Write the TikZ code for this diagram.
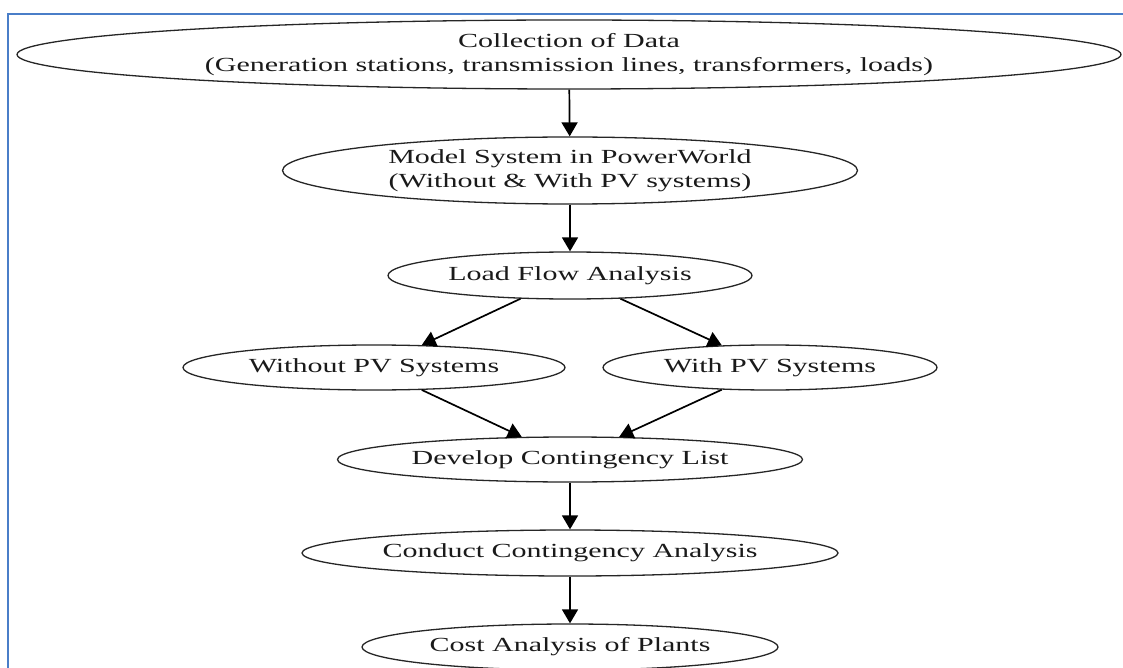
\documentclass[tikz,border=0pt]{standalone}
\usepackage{fontspec}
\setmainfont{Liberation Serif}[FakeStretch=1.5]
\usetikzlibrary{shapes.geometric,arrows.meta}
\definecolor{frameblue}{HTML}{4A7EC8}
\definecolor{txt}{HTML}{1A1A1A}
\begin{document}
\begin{tikzpicture}[x=1pt,y=-1pt,
  oval/.style={ellipse, draw=black!85, line width=1.3pt, inner sep=0pt, text=txt,
    font=\fontsize{20}{24}\selectfont, align=center},
  flow/.style={-{Triangle[length=14pt,width=16pt]}, line width=1.7pt, draw=black}]
\useasboundingbox (0,0) rectangle (1123,668);
\begin{scope}
\clip (0,0) rectangle (1123,668);
\fill[white] (0,0) rectangle (1123,668);
\draw[frameblue, line width=2pt] (8,700) -- (8,14) -- (1140,14);

\node[oval, minimum width=1104pt, minimum height=69pt] (data) at (569,54.5)
  {Collection of Data\\(Generation stations, transmission lines, transformers, loads)};
\node[oval, minimum width=575pt, minimum height=67pt] (model) at (570,170.5)
  {Model System in PowerWorld\\(Without \& With PV systems)};
\node[oval, minimum width=364pt, minimum height=47pt] (load) at (570,275.5)
  {Load Flow Analysis};
\node[oval, minimum width=382pt, minimum height=45pt] (wo) at (374,367.5)
  {Without PV Systems};
\node[oval, minimum width=334pt, minimum height=45pt] (wi) at (770,367.5)
  {With PV Systems};
\node[oval, minimum width=465pt, minimum height=45pt] (dev) at (570,459.5)
  {Develop Contingency List};
\node[oval, minimum width=536pt, minimum height=46pt] (cond) at (570,553)
  {Conduct Contingency Analysis};
\node[oval, minimum width=416pt, minimum height=46pt] (cost) at (570,647)
  {Cost Analysis of Plants};

\draw[flow] (data) -- (model);
\draw[flow] (model) -- (load);
\draw[flow] (load) -- (wo);
\draw[flow] (load) -- (wi);
\draw[flow] (wo) -- (dev);
\draw[flow] (wi) -- (dev);
\draw[flow] (dev) -- (cond);
\draw[flow] (cond) -- (cost);
\end{scope}
\end{tikzpicture}
\end{document}
